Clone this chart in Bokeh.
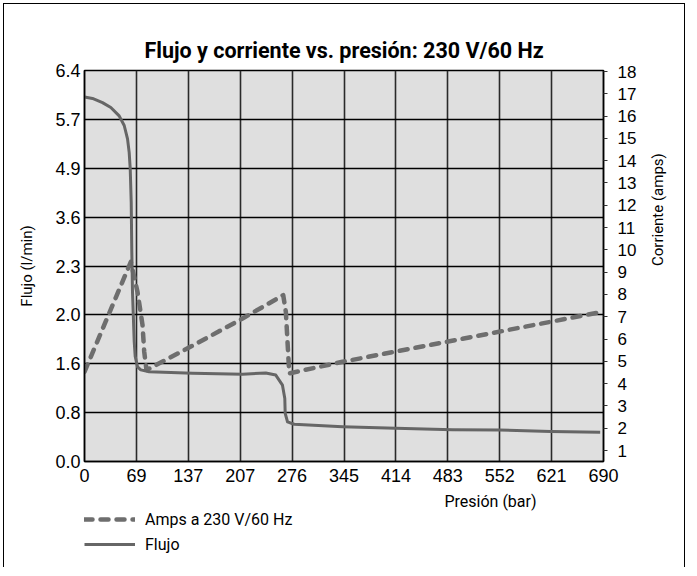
import math
import numpy as np
from bokeh.plotting import figure
from bokeh.layouts import column
from bokeh.models import (Range1d, LinearAxis, FixedTicker, Legend, LegendItem, Label)
from bokeh.embed import file_html
from bokeh.resources import INLINE

# ---- axes / ticks ----
pressure_ticks = [0, 69, 138, 207, 276, 345, 414, 483, 552, 621, 690]
pressure_tick_labels = ["0", "69", "137", "207", "276", "345", "414", "483", "552", "621", "690"]
flow_tick_values = [0.0, 0.8, 1.6, 2.0, 2.3, 3.6, 4.9, 5.7, 6.4]
flow_tick_labels = ["0.0", "0.8", "1.6", "2.0", "2.3", "3.6", "4.9", "5.7", "6.4"]
amps_ticks = list(range(1, 19))

# ---- data: flow (l/min) vs pressure (bar) ----
flow_pressure = [0, 10.6, 23.9, 35.0, 46.1, 52.8, 57.2, 59.4, 60.8, 62.1, 62.9, 63.8,
                 66.1, 67.4, 70.5, 74.8, 86.0, 143.6, 210.1, 241.0, 254.3, 263.2,
                 266.3, 266.8, 269.9, 278.8, 343.0, 413.9, 489.3, 551.3, 620.0, 685.6]
flow_lpm = [6.02, 6.00, 5.94, 5.87, 5.75, 5.60, 5.38, 5.16, 4.88, 4.00, 2.67, 2.14,
            1.78, 1.66, 1.55, 1.50, 1.47, 1.445, 1.43, 1.45, 1.415, 1.25,
            1.03, 0.79, 0.65, 0.61, 0.57, 0.545, 0.52, 0.515, 0.49, 0.48]

# ---- data: current (amps) vs pressure (bar) ----
amps_pressure = [0, 61.6, 70.5, 77.1, 79.4, 82.4, 143.6, 210.1, 264.2, 267.7, 272.2, 343.0, 690]
amps_values = [4.53, 9.46, 8.11, 6.64, 5.43, 4.61, 5.70, 6.92, 7.97, 7.22, 4.46, 4.98, 7.23]

flow_pos = np.interp(flow_lpm, flow_tick_values, np.arange(len(flow_tick_values)))

TXT = "Roboto"
NUM = "Liberation Sans"
AMPS_STYLE = dict(line_color="#6e6e6e", line_width=4.5, line_dash="8 8",
                  line_cap="round", line_join="round")
FLOW_STYLE = dict(line_color="#666666", line_width=3, line_join="round")

p = figure(width=680, height=488, output_backend="svg", toolbar_location=None,
           x_range=Range1d(0, 690), y_range=Range1d(0, 8),
           min_border_left=80, min_border_right=81, min_border_top=66,
           min_border_bottom=31,
           background_fill_color="#dfdfdf", border_fill_color="white",
           title="Flujo y corriente vs. presión: 230 V/60 Hz")
p.extra_y_ranges = {"amps": Range1d(0.508, 18.045)}

p.title.text_font = TXT
p.title.text_font_style = "bold"
p.title.text_font_size = "21.5px"
p.title.text_color = "black"
p.title.align = "center"
p.title.standoff = 16

p.outline_line_color = "black"
p.outline_line_width = 1.5

# grids
p.xgrid.ticker = FixedTicker(ticks=pressure_ticks)
p.ygrid.ticker = FixedTicker(ticks=list(range(len(flow_tick_values))))
p.xgrid.grid_line_color = "#2a2a2a"
p.xgrid.grid_line_width = 1.6
p.ygrid.grid_line_color = "black"
p.ygrid.grid_line_width = 1.5

# bottom axis
xa = p.xaxis[0]
xa.ticker = FixedTicker(ticks=pressure_ticks)
xa.major_label_overrides = {t: l for t, l in zip(pressure_ticks, pressure_tick_labels)}
xa.major_tick_out = 0
xa.major_tick_in = 0
xa.minor_tick_out = 0
xa.minor_tick_in = 0
xa.axis_line_color = "black"
xa.axis_line_width = 1.5
xa.major_label_text_font = NUM
xa.major_label_text_font_size = "18px"
xa.major_label_text_color = "black"
xa.major_label_standoff = 7

# left axis
ya = p.yaxis[0]
ya.ticker = FixedTicker(ticks=list(range(len(flow_tick_values))))
ya.major_label_overrides = {i: l for i, l in enumerate(flow_tick_labels)}
ya.major_tick_out = 0
ya.major_tick_in = 0
ya.minor_tick_out = 0
ya.minor_tick_in = 0
ya.axis_line_color = "black"
ya.axis_line_width = 1.5
ya.major_label_text_font = NUM
ya.major_label_text_font_size = "18px"
ya.major_label_text_color = "black"
ya.major_label_standoff = 4
ya.axis_label = "Flujo (l/min)"
ya.axis_label_text_font = TXT
ya.axis_label_text_font_style = "normal"
ya.axis_label_text_font_size = "15px"
ya.axis_label_text_color = "black"
ya.axis_label_standoff = 16

# right axis (ticks and numbers)
ra = LinearAxis(y_range_name="amps", ticker=FixedTicker(ticks=amps_ticks))
ra.major_tick_out = 4
ra.major_tick_in = 0
ra.major_tick_line_color = "#333333"
ra.minor_tick_out = 0
ra.minor_tick_in = 0
ra.axis_line_color = "black"
ra.axis_line_width = 1.5
ra.major_label_text_font = NUM
ra.major_label_text_font_size = "17px"
ra.major_label_text_color = "black"
ra.major_label_standoff = 10
p.add_layout(ra, "right")

# right axis title, reading bottom-to-top like the original
ra2 = LinearAxis(y_range_name="amps", ticker=FixedTicker(ticks=[]),
                 axis_label="Corriente (amps)", bounds=(0.508, 12.9))
ra2.axis_line_color = None
ra2.major_tick_out = 0
ra2.major_tick_in = 0
ra2.minor_tick_out = 0
ra2.minor_tick_in = 0
ra2.axis_label_text_font = TXT
ra2.axis_label_text_font_style = "normal"
ra2.axis_label_text_font_size = "15px"
ra2.axis_label_text_color = "black"
ra2.axis_label_standoff = 18
if "axis_label_orientation" in ra2.properties():
    ra2.axis_label_orientation = math.pi / 2
p.add_layout(ra2, "right")

# series
r_amps = p.line(amps_pressure, amps_values, y_range_name="amps", **AMPS_STYLE)
r_flow = p.line(flow_pressure, flow_pos, **FLOW_STYLE)

# ---- strip under the chart: x-axis title and legend ----
p2 = figure(width=680, height=75, output_backend="svg", toolbar_location=None,
            x_range=Range1d(0, 1), y_range=Range1d(0, 1),
            min_border_left=0, min_border_right=0, min_border_top=0, min_border_bottom=0,
            border_fill_color="white", background_fill_color="white")
p2.axis.visible = False
p2.grid.visible = False
p2.outline_line_color = None

# hidden copies of the series, used only as legend samples
l_amps = p2.line(amps_pressure, amps_values, visible=False, **AMPS_STYLE)
l_flow = p2.line(flow_pressure, flow_pos, visible=False, **FLOW_STYLE)

p2.add_layout(Label(x=406, y=66, x_units="screen", y_units="screen",
                    text="Presión (bar)", text_align="center", text_baseline="middle",
                    text_font=TXT, text_font_size="16px", text_color="black"))

legend = Legend(items=[LegendItem(label="Amps a 230 V/60 Hz", renderers=[l_amps]),
                       LegendItem(label="Flujo", renderers=[l_flow])],
                location=(0, 13), orientation="vertical",
                border_line_color=None, background_fill_alpha=0,
                padding=0, margin=0, spacing=5, glyph_width=51, glyph_height=20,
                label_height=20, label_standoff=10,
                label_text_font=TXT, label_text_font_size="16px",
                label_text_color="black")
p2.add_layout(legend, "center")

layout = column(p, p2, spacing=0,
                styles={"margin-left": "3px", "margin-top": "3px",
                        "border-left": "1.5px solid black",
                        "border-right": "1.5px solid black",
                        "border-top": "1.5px solid black"})

open("out.html", "w").write(file_html(layout, INLINE))
